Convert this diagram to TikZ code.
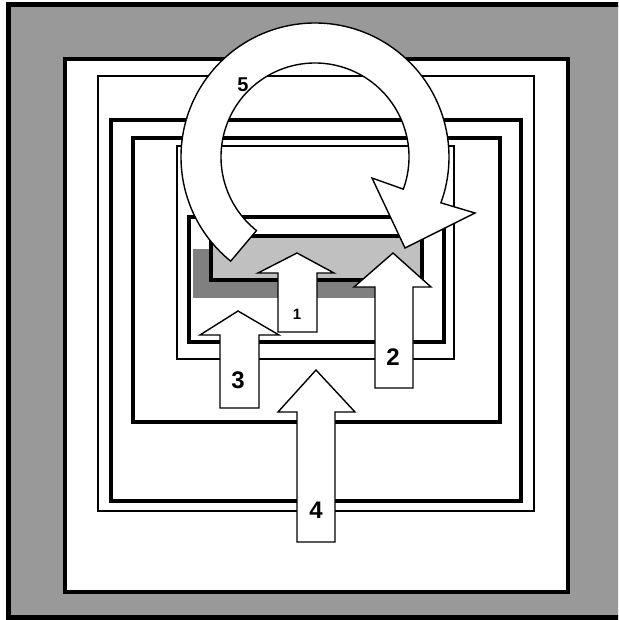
\documentclass[tikz,border=0pt]{standalone}
\usepackage{fontspec}
\setmainfont{Liberation Sans}
\usetikzlibrary{calc}
\definecolor{framegray}{HTML}{999999}
\definecolor{lightg}{HTML}{C0C0C0}
\definecolor{darkg}{HTML}{808080}
\tikzset{
  thickbox/.style={draw=black,fill=white,line width=4pt},
  thinbox/.style={draw=black,fill=white,line width=1.6pt},
  blockarrow/.style={draw=black,fill=white,line width=1.4pt,line join=miter},
  lbl/.style={font=\bfseries\fontsize{24}{24}\selectfont,inner sep=0pt}
}
\begin{document}
\begin{tikzpicture}[x=1pt,y=-1pt]
\useasboundingbox (0,0) rectangle (618,620);
\begin{scope}
\clip (0,0) rectangle (618,620);
\draw[fill=framegray,line width=5pt] (8,5) rectangle (640,617);
\end{scope}
% nested frames
\draw[thickbox] (65,59) rectangle (568,592);
\draw[thinbox] (98,76) rectangle (534,511);
\draw[thickbox] (111,120) rectangle (521,501);
\draw[thickbox] (133,138) rectangle (500,422);
\draw[thinbox] (177,146) rectangle (454,359);
\draw[thickbox] (189,217) rectangle (444,342);
\fill[darkg] (193,249) rectangle (375,298);
\draw[line width=4pt,fill=lightg] (211,236) rectangle (422,280);
% circular arrow 5
\coordinate (c5) at (315,157);
\draw[blockarrow] ($(c5)+(231:134pt)$) arc[start angle=231,end angle=-20,radius=134pt]
  -- (475,213) -- (405,248) -- (372,178)
  -- ($(c5)+(-20:94pt)$) arc[start angle=-20,end angle=231.5,radius=94pt] -- cycle;
\node[font=\bfseries\fontsize{20}{20}\selectfont,inner sep=0pt] (l5) at (243,85) {5};
% arrow 1
\draw[blockarrow] (278,332) -- (278,273) -- (258,273) -- (297,253) -- (334,273) -- (317,273) -- (317,332) -- cycle;
\node[font=\bfseries\fontsize{15}{15}\selectfont,inner sep=0pt] (l1) at (297,314) {1};
% arrow 2
\draw[blockarrow] (375,388) -- (375,287) -- (354,287) -- (393,253) -- (431,287) -- (413,287) -- (413,388) -- cycle;
\node[lbl] (l2) at (393,357) {2};
% arrow 3
\draw[blockarrow] (220,408) -- (220,335) -- (200,335) -- (238,311) -- (279,335) -- (259,335) -- (259,408) -- cycle;
\node[lbl] (l3) at (238,380) {3};
% arrow 4
\draw[blockarrow] (297,542) -- (297,412) -- (278,412) -- (316,370) -- (355,412) -- (335,412) -- (335,542) -- cycle;
\node[lbl] (l4) at (316,510) {4};
\end{tikzpicture}
\end{document}
